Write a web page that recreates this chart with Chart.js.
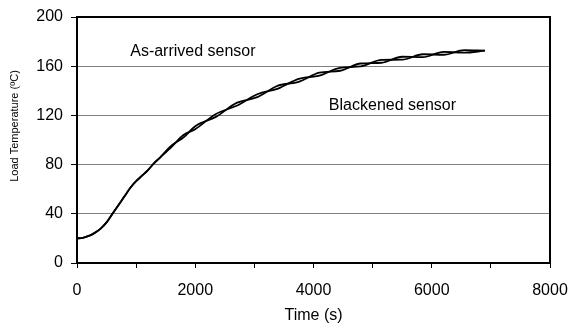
<!DOCTYPE html>
<html>
<head>
<meta charset="utf-8">
<script src="https://cdn.jsdelivr.net/npm/chart.js@4.4.1/dist/chart.umd.min.js"></script>
<style>
  html, body { margin: 0; padding: 0; background: #fff; }
  #wrap { width: 570px; height: 328px; }
</style>
</head>
<body>
<div id="wrap"><canvas id="chart"></canvas></div>
<script>
// Data ---------------------------------------------------------------------
var times = [0, 100, 200, 300, 400, 500, 600, 700, 800, 900, 1000, 1100, 1200, 1300, 1400,
             1600, 1800, 2000, 2350, 2700, 3050, 3400, 3750, 4100, 4450, 4800, 5150, 5500,
             5850, 6200, 6550, 6900];
var asArrived = [20, 20.5, 22, 24.5, 28, 33, 40, 47, 54, 61, 66.5, 71, 75.5, 81, 85.5,
                 95.5, 102, 111.2, 118.8, 130.2, 134.8, 144.2, 147.3, 154.7, 156.3, 162.2, 162.8, 167.7,
                 167.3, 171.7, 171, 172.6];
var blackened = [20, 20.5, 22, 24.5, 28, 33, 40, 47, 54, 61, 66.5, 71, 75.5, 81, 85.5,
                 94.5, 104, 108.8, 121.2, 127.8, 137.2, 141.8, 149.7, 152.3, 158.7, 159.8, 165.2, 165.3,
                 169.7, 169.3, 173, 172.6];
var seriesNames = ["As-arrived sensor", "Blackened sensor"];
var xTickLabels = [0, 2000, 4000, 6000, 8000];
var yTitle = "Load Temperature (ºC)";

var FONT = "'Liberation Sans', Arial, Helvetica, sans-serif";

function points(ys) {
  return times.map(function (t, i) { return { x: t, y: ys[i] }; });
}

// frame on top/right, series labels inside the plot, y title
var framePlugin = {
  id: "frame",
  afterDraw: function (chart) {
    var ctx = chart.ctx, a = chart.chartArea;
    var xs = chart.scales.x, ys = chart.scales.y;
    ctx.save();
    ctx.strokeStyle = "#000";
    ctx.lineWidth = 2;
    ctx.beginPath();
    ctx.moveTo(a.left, a.top);
    ctx.lineTo(a.right, a.top);
    ctx.lineTo(a.right, a.bottom);
    ctx.stroke();
    ctx.fillStyle = "#000";
    ctx.font = "16px " + FONT;
    ctx.textBaseline = "middle";
    ctx.textAlign = "left";
    ctx.fillText(seriesNames[0], xs.getPixelForValue(900), ys.getPixelForValue(171.5));
    ctx.fillText(seriesNames[1], xs.getPixelForValue(4260), ys.getPixelForValue(128));
    // y axis title
    ctx.translate(15, 126);
    ctx.rotate(-Math.PI / 2);
    ctx.textAlign = "center";
    ctx.font = "11px " + FONT;
    ctx.fillText(yTitle, 0, 0);
    ctx.restore();
  }
};

new Chart(document.getElementById("chart"), {
  type: "line",
  data: {
    datasets: [
      { label: seriesNames[0], data: points(asArrived), borderColor: "#000", borderWidth: 1.8,
        pointRadius: 0, cubicInterpolationMode: "monotone", fill: false },
      { label: seriesNames[1], data: points(blackened), borderColor: "#000", borderWidth: 1.8,
        pointRadius: 0, cubicInterpolationMode: "monotone", fill: false }
    ]
  },
  options: {
    responsive: true,
    maintainAspectRatio: false,
    animation: false,
    layout: { padding: { top: 17, right: 20, left: 0, bottom: 0 } },
    plugins: { legend: { display: false }, tooltip: { enabled: false } },
    scales: {
      x: {
        type: "linear", min: 0, max: 8000,
        afterFit: function (s) { s.height = 65; s.paddingLeft = 0; s.paddingRight = 0; },
        ticks: {
          stepSize: 1000, color: "#000", font: { family: FONT, size: 16 }, padding: 13,
          maxRotation: 0, autoSkip: false,
          callback: function (v) { return xTickLabels.indexOf(v) >= 0 ? String(v) : ""; }
        },
        grid: { drawOnChartArea: false, color: "#000", tickLength: 5 },
        border: { color: "#000", width: 2 },
        title: { display: true, text: "Time (s)", color: "#000", font: { family: FONT, size: 16 },
                 padding: { top: 2, bottom: 3 } }
      },
      y: {
        min: 0, max: 200,
        afterFit: function (s) { s.width = 77; s.paddingTop = 0; s.paddingBottom = 0; },
        ticks: { stepSize: 40, color: "#000", font: { family: FONT, size: 16 }, padding: 8 },
        grid: { color: "#808080", lineWidth: 1, tickColor: "#000", tickLength: 6 },
        border: { color: "#000", width: 2 },
        title: { display: false }
      }
    }
  },
  plugins: [framePlugin]
});
</script>
</body>
</html>
